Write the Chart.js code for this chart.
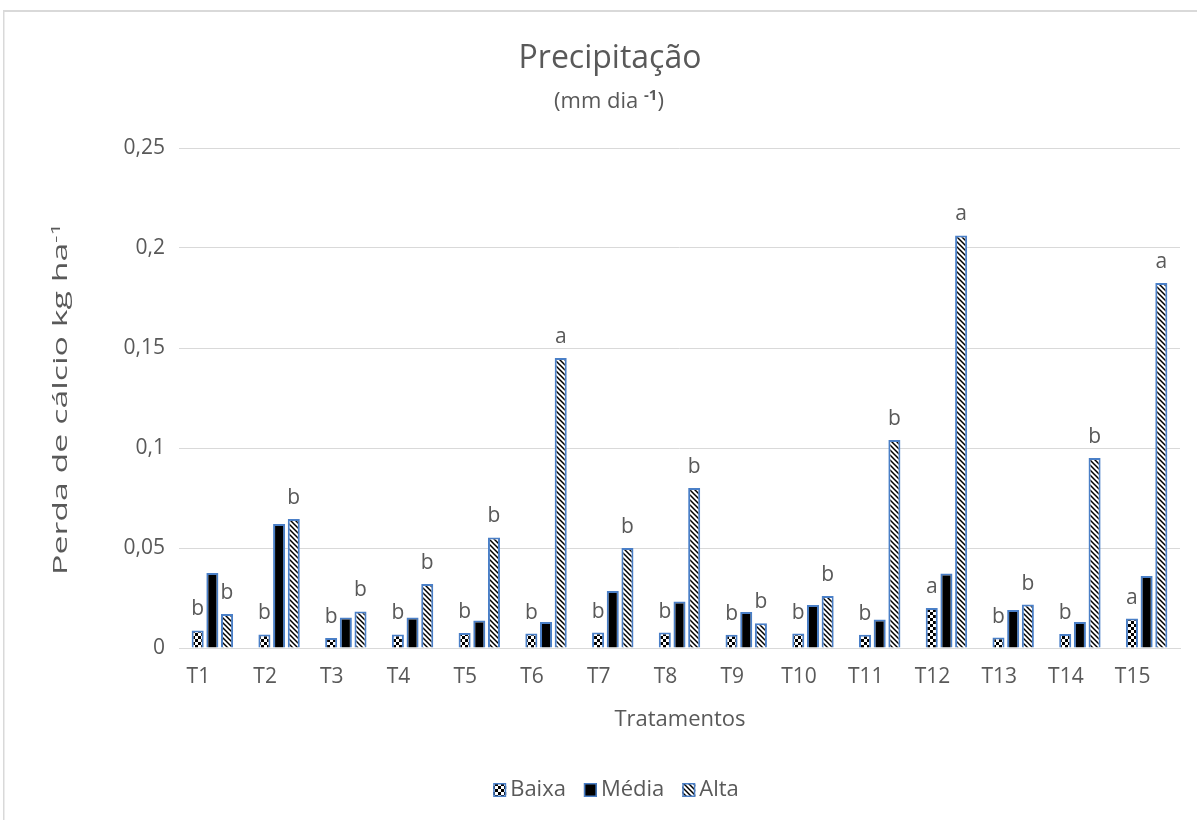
<!DOCTYPE html>
<html>
<head>
<meta charset="utf-8">
<script src="https://cdn.jsdelivr.net/npm/chart.js@4/dist/chart.umd.min.js"></script>
<style>
  html, body { margin: 0; padding: 0; background: #fff; }
  canvas { display: block; }
</style>
</head>
<body>
<canvas id="grafico" width="1197" height="820"></canvas>
<script>
// Perda de cálcio (kg ha-1) por tratamento, em três níveis de precipitação
const tratamentos = ['T1','T2','T3','T4','T5','T6','T7','T8','T9','T10','T11','T12','T13','T14','T15'];
const baixa = [0.0088, 0.0068, 0.0050, 0.0068, 0.0075, 0.0072, 0.0077, 0.0077, 0.0066, 0.0072, 0.0066, 0.0200, 0.0052, 0.0070, 0.0147];
const media = [0.0375, 0.0620, 0.0153, 0.0153, 0.0138, 0.0130, 0.0285, 0.0233, 0.0180, 0.0215, 0.0142, 0.0372, 0.0190, 0.0130, 0.0360];
const alta  = [0.0170, 0.0645, 0.0183, 0.0320, 0.0553, 0.1450, 0.0500, 0.0800, 0.0124, 0.0260, 0.1040, 0.2063, 0.0217, 0.0950, 0.1825];
// Letras do teste de médias
const letrasBaixa = ['b','b','b','b','b','b','b','b','b','b','b','a','b','b','a'];
const letrasAlta  = ['b','b','b','b','b','a','b','b','b','b','b','a','b','b','a'];
const yTickLabels = ['0','0,05','0,1','0,15','0,2','0,25'];
const serieNomes = ['Baixa','Média','Alta'];

const FONTE = '"Open Sans", "DejaVu Sans", sans-serif';
const CINZA = '#595959';
const AZUL = '#4a7fc7';

function padraoXadrez() {
  const c = document.createElement('canvas');
  c.width = c.height = 6;
  const g = c.getContext('2d');
  g.fillStyle = '#fff'; g.fillRect(0, 0, 6, 6);
  g.fillStyle = '#000';
  g.fillRect(0, 0, 3, 3); g.fillRect(3, 3, 3, 3);
  return g.createPattern(c, 'repeat');
}
function padraoDiagonal() {
  const s = 5;
  const c = document.createElement('canvas');
  c.width = c.height = s;
  const g = c.getContext('2d');
  g.fillStyle = '#fff'; g.fillRect(0, 0, s, s);
  g.strokeStyle = '#000'; g.lineWidth = 1.5;
  g.beginPath();
  g.moveTo(-1, -1); g.lineTo(s + 1, s + 1);
  g.moveTo(-1, s - 1); g.lineTo(1, s + 1);
  g.moveTo(s - 1, -1); g.lineTo(s + 1, 1);
  g.stroke();
  return g.createPattern(c, 'repeat');
}
const preenchimentos = [padraoXadrez(), '#000', padraoDiagonal()];

// Moldura, títulos, legenda e letras desenhados sobre o gráfico
const decoracao = {
  id: 'decoracao',
  beforeDraw(chart) {
    const ctx = chart.ctx;
    ctx.save();
    ctx.fillStyle = '#fff';
    ctx.fillRect(0, 0, chart.width, chart.height);
    ctx.fillStyle = '#d9d9d9';
    ctx.fillRect(3, 10, chart.width, 2);
    ctx.fillRect(3, 10, 1.5, chart.height);
    ctx.restore();
  },
  afterDatasetsDraw(chart) {
    const ctx = chart.ctx;
    ctx.save();
    ctx.fillStyle = CINZA;
    ctx.font = '21px ' + FONTE;
    ctx.textAlign = 'center';
    ctx.textBaseline = 'alphabetic';
    [[0, letrasBaixa], [2, letrasAlta]].forEach(([ds, letras]) => {
      chart.getDatasetMeta(ds).data.forEach((el, i) => {
        ctx.fillText(letras[i], el.x, el.y - 15);
      });
    });
    ctx.restore();
  },
  afterDraw(chart) {
    const ctx = chart.ctx;
    ctx.save();
    ctx.fillStyle = CINZA;
    ctx.textBaseline = 'alphabetic';

    // Título
    ctx.font = '32px ' + FONTE;
    ctx.textAlign = 'center';
    ctx.fillText('Precipitação', 610, 68);

    // Subtítulo com expoente
    const partes = [['(mm dia ', '22px ' + FONTE, 0], ['-1', 'bold 15px ' + FONTE, -8], [')', '22px ' + FONTE, 0]];
    let total = 0;
    partes.forEach(p => { ctx.font = p[1]; total += ctx.measureText(p[0]).width; });
    let x = 609 - total / 2;
    ctx.textAlign = 'left';
    partes.forEach(p => { ctx.font = p[1]; ctx.fillText(p[0], x, 108 + p[2]); x += ctx.measureText(p[0]).width; });

    // Título do eixo X
    ctx.font = '22px ' + FONTE;
    ctx.textAlign = 'center';
    ctx.fillText('Tratamentos', 680, 726);

    // Título do eixo Y (vertical, alongado no sentido da leitura)
    const py = [['Perda de cálcio kg ha', '20px ' + FONTE, 0], ['-1', '13px ' + FONTE, -7]];
    let w = 0;
    py.forEach(p => { ctx.font = p[1]; w += ctx.measureText(p[0]).width; });
    const comprimento = 352;
    const esc = comprimento / w;
    ctx.save();
    ctx.translate(67, 399);
    ctx.rotate(-Math.PI / 2);
    ctx.scale(esc, 1);
    ctx.textAlign = 'left';
    let xx = -w / 2;
    py.forEach(p => { ctx.font = p[1]; ctx.fillText(p[0], xx, p[2]); xx += ctx.measureText(p[0]).width; });
    ctx.restore();

    // Legenda
    ctx.font = '22px ' + FONTE;
    ctx.textBaseline = 'middle';
    ctx.textAlign = 'left';
    const caixa = 13, gapTexto = 4, gapItem = 18;
    let larg = 0;
    serieNomes.forEach((n, i) => { larg += caixa + gapTexto + ctx.measureText(n).width + (i < 2 ? gapItem : 0); });
    let lx = 616 - larg / 2;
    const ly = 790;
    serieNomes.forEach((n, i) => {
      ctx.fillStyle = preenchimentos[i];
      ctx.fillRect(lx, ly - 7, caixa, 14);
      ctx.strokeStyle = AZUL; ctx.lineWidth = 1.5;
      ctx.strokeRect(lx + 0.75, ly - 6.25, caixa - 1.5, 12.5);
      ctx.fillStyle = CINZA;
      ctx.fillText(n, lx + caixa + gapTexto, ly);
      lx += caixa + gapTexto + ctx.measureText(n).width + gapItem;
    });
    ctx.restore();
  }
};

new Chart(document.getElementById('grafico'), {
  type: 'bar',
  data: {
    labels: tratamentos,
    datasets: [baixa, media, alta].map((vals, i) => ({
      label: serieNomes[i],
      data: vals,
      backgroundColor: preenchimentos[i],
      borderColor: AZUL,
      borderWidth: 2,
      categoryPercentage: 0.66,
      barPercentage: 0.82
    }))
  },
  options: {
    responsive: false,
    animation: false,
    devicePixelRatio: 1,
    layout: { padding: { top: 148, right: 17, left: 0, bottom: 0 } },
    plugins: { legend: { display: false }, title: { display: false }, tooltip: { enabled: false } },
    scales: {
      x: {
        grid: { display: false, drawTicks: false },
        border: { display: true, color: '#d9d9d9', width: 1 },
        ticks: { color: CINZA, font: { family: FONTE, size: 21 }, padding: 16, maxRotation: 0, labelOffset: -14 },
        afterFit(scale) { scale.height = 172; }
      },
      y: {
        min: 0, max: 0.25,
        grid: { color: '#d9d9d9', lineWidth: 1, drawTicks: false },
        border: { display: false },
        ticks: {
          stepSize: 0.05,
          color: CINZA,
          font: { family: FONTE, size: 21 },
          padding: 14,
          callback: (v, i) => yTickLabels[i]
        },
        afterFit(scale) { scale.width = 179; }
      }
    }
  },
  plugins: [decoracao]
});
</script>
</body>
</html>
